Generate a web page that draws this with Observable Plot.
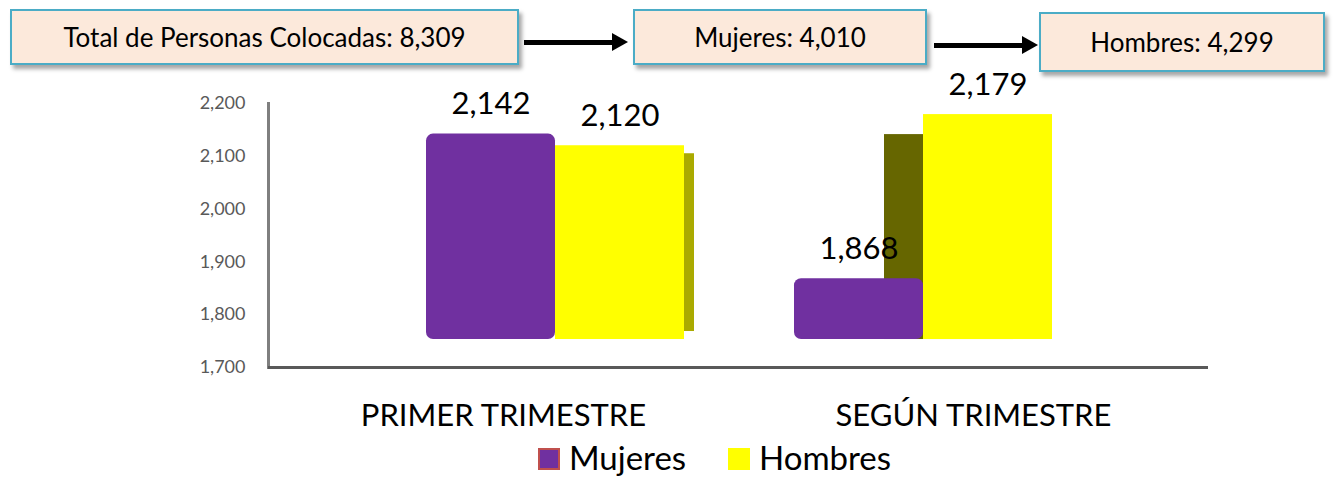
<!DOCTYPE html>
<html>
<head>
<meta charset="utf-8">
<script src="https://cdn.jsdelivr.net/npm/d3@7"></script>
<script src="https://cdn.jsdelivr.net/npm/@observablehq/plot@0.6"></script>
<style>
  html, body { margin: 0; padding: 0; background: #fff; }
  #wrap { position: relative; width: 1336px; height: 477px; overflow: hidden; font-family: Lato, "Open Sans", sans-serif; }
  #chart { position: absolute; left: 0; top: 0; }
  .box { position: absolute; box-sizing: border-box; background: #fce9db; border: 2px solid #4bacc6;
         box-shadow: 3px 4px 4px rgba(0,0,0,0.35); display: flex; align-items: center; justify-content: center;
         font-size: 26px; color: #000; white-space: nowrap; }
  .arrow { position: absolute; height: 5px; background: #000; }
  .arrow::after { content: ""; position: absolute; right: -16px; top: -7px; border-left: 16px solid #000;
                  border-top: 9.5px solid transparent; border-bottom: 9.5px solid transparent; }
  #legend { position: absolute; left: 0; top: 439px; width: 1336px; height: 36px; font-size: 33px; line-height: 36px; color: #000; }
  .item { position: absolute; top: 0; display: flex; align-items: center; }
  .sw { display: inline-block; width: 22px; height: 22px; box-sizing: border-box; margin-right: 9px; margin-top: 4px; }
</style>
</head>
<body>
<div id="wrap">
  <div id="chart"></div>
  <div id="boxes"></div>
  <div id="legend"></div>
</div>
<script>
// ---- data ----
const trimestres = ["PRIMER TRIMESTRE", "SEGÚN TRIMESTRE"];
const sexos = ["Mujeres", "Hombres"];
const mujeres = [2142, 1868];
const hombres = [2120, 2179];
const yTicks = [1700, 1800, 1900, 2000, 2100, 2200];
const boxLabels = ["Total de Personas Colocadas", "Mujeres", "Hombres"];
const boxValues = [8309, 4010, 4299];
const colores = ["#7030a0", "#ffff00"];

const fmt = d3.format(",");
const piso = 1753;          // floor of the 3D bars
const shift = [52, -50];    // perspective shift of each bar group (px)
const side = [
  {fill: "#aaaa00", dx: 10, insetTop: 8, insetBottom: 8},
  {fill: "#666600", dx: -39, insetTop: 20, insetBottom: 0}
];

const data = trimestres.flatMap((t, i) => [
  {trim: t, sexo: sexos[0], valor: mujeres[i]},
  {trim: t, sexo: sexos[1], valor: hombres[i]}
]);

const groupMarks = trimestres.flatMap((t, i) => [
  Plot.barY(data, {filter: d => d.trim === t && d.sexo === sexos[1],
    fx: "trim", x: "sexo", y1: piso, y2: "valor", fill: side[i].fill,
    dx: shift[i] + side[i].dx, insetTop: side[i].insetTop, insetBottom: side[i].insetBottom}),
  Plot.barY(data, {filter: d => d.trim === t && d.sexo === sexos[0],
    fx: "trim", x: "sexo", y1: piso, y2: "valor", fill: "sexo", rx: 7, dx: shift[i]}),
  Plot.barY(data, {filter: d => d.trim === t && d.sexo === sexos[1],
    fx: "trim", x: "sexo", y1: piso, y2: "valor", fill: "sexo", dx: shift[i]}),
  Plot.text(data, {filter: d => d.trim === t,
    fx: "trim", x: "sexo", y: "valor", text: d => fmt(d.valor), dy: -30, dx: shift[i], fontSize: 31, fill: "#000"})
]);

const chart = Plot.plot({
  width: 1336,
  height: 477,
  marginLeft: 268,
  marginRight: 128,
  marginTop: 103,
  marginBottom: 110,
  style: {fontFamily: "Lato, 'Open Sans', sans-serif", background: "transparent", overflow: "visible"},
  fx: {domain: trimestres, padding: 0, label: null},
  x: {domain: sexos, paddingInner: 0, paddingOuter: 0.81, axis: null},
  y: {domain: [1700, 2200], label: null},
  color: {domain: sexos, range: colores},
  marks: [
    Plot.axisY({ticks: yTicks, tickFormat: d => fmt(d), tickSize: 0, tickPadding: 23, fontSize: 18, color: "#595959", label: null}),
    Plot.axisFx({anchor: "bottom", tickSize: 0, tickPadding: 36, fontSize: 31, color: "#000", label: null}),
    Plot.frame({anchor: "left", facetAnchor: "left", stroke: "#7f7f7f", strokeWidth: 3}),
    Plot.ruleY([1700], {stroke: "#595959", strokeWidth: 3}),
    ...groupMarks
  ]
});
document.getElementById("chart").appendChild(chart);

// ---- summary boxes ----
const boxGeom = [
  {left: 10, top: 9, width: 509, height: 56},
  {left: 633, top: 9, width: 294, height: 56},
  {left: 1039, top: 12, width: 286, height: 60}
];
const boxes = document.getElementById("boxes");
boxLabels.forEach((lab, i) => {
  const b = document.createElement("div");
  b.className = "box";
  const g = boxGeom[i];
  Object.assign(b.style, {left: g.left + "px", top: g.top + "px", width: g.width + "px", height: g.height + "px"});
  b.textContent = `${lab}: ${fmt(boxValues[i])}`;
  boxes.appendChild(b);
});
[{left: 524, top: 40, width: 88}, {left: 934, top: 43, width: 88}].forEach(a => {
  const d = document.createElement("div");
  d.className = "arrow";
  Object.assign(d.style, {left: a.left + "px", top: a.top + "px", width: a.width + "px"});
  boxes.appendChild(d);
});

// ---- legend ----
const legend = document.getElementById("legend");
const legendX = [538, 728];
sexos.forEach((s, i) => {
  const it = document.createElement("div");
  it.className = "item";
  it.style.left = legendX[i] + "px";
  const sw = document.createElement("span");
  sw.className = "sw";
  sw.style.background = colores[i];
  if (i === 0) sw.style.border = "2px solid #c0504d";
  it.appendChild(sw);
  it.appendChild(document.createTextNode(s));
  legend.appendChild(it);
});
</script>
</body>
</html>
